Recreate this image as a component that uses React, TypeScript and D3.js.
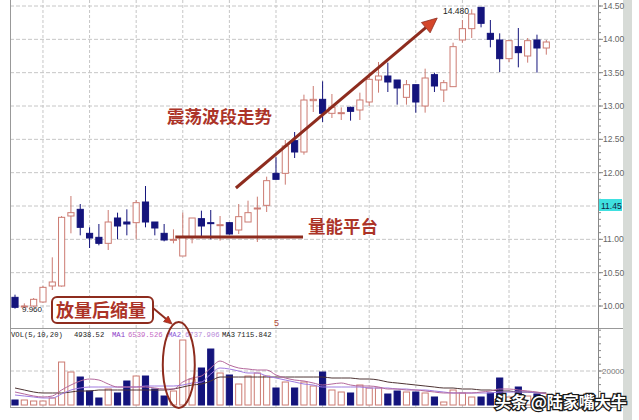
import * as d3 from 'd3'

// daily candles
const opens = [10.13, 9.99, 10.0, 10.06, 10.3, 10.3, 11.35, 11.45, 11.09, 11.03, 10.94, 11.32, 11.26, 11.25, 11.56, 11.26, 11.09, 10.99, 10.75, 11.03, 11.31, 11.25, 11.21, 11.25, 11.14, 11.26, 11.46, 11.51, 11.99, 11.99, 12.48, 12.31, 13.08, 13.1, 12.89, 12.89, 12.98, 12.94, 13.06, 13.39, 13.45, 13.39, 13.13, 13.32, 13.0, 13.47, 13.24, 13.29, 13.99, 14.16, 14.48, 14.09, 13.99, 13.71, 13.89, 13.75, 13.99, 13.87]
const highs = [10.17, 10.04, 10.12, 10.3, 10.73, 11.35, 11.65, 11.53, 11.18, 11.23, 11.44, 11.4, 11.45, 11.59, 11.8, 11.26, 11.23, 11.15, 11.4, 11.32, 11.43, 11.44, 11.35, 11.26, 11.53, 11.58, 11.64, 11.94, 12.23, 12.49, 12.61, 13.17, 13.3, 13.37, 13.18, 12.98, 12.99, 13.2, 13.5, 13.66, 13.65, 13.39, 13.39, 13.32, 13.56, 13.5, 13.39, 13.95, 14.29, 14.45, 14.48, 14.29, 14.09, 13.99, 14.17, 14.02, 14.07, 13.99]
const lows = [9.96, 9.97, 9.98, 10.05, 10.24, 10.29, 11.09, 11.06, 10.87, 10.91, 10.84, 11.0, 11.06, 11.0, 11.18, 11.06, 10.97, 10.94, 10.75, 10.94, 11.05, 11.0, 10.98, 11.07, 11.08, 11.26, 10.96, 11.41, 11.9, 11.82, 12.22, 12.27, 12.91, 12.76, 12.82, 12.79, 12.78, 12.79, 13.0, 13.2, 13.21, 13.02, 13.02, 12.9, 12.9, 13.21, 13.06, 13.29, 13.95, 14.02, 14.18, 13.88, 13.51, 13.66, 13.58, 13.65, 13.5, 13.77]
const closes = [9.98, 10.0, 10.1, 10.28, 10.36, 11.33, 11.4, 11.18, 11.02, 10.94, 11.26, 11.2, 11.23, 11.55, 11.26, 11.17, 10.99, 11.0, 11.03, 11.32, 11.2, 11.24, 11.22, 11.08, 11.34, 11.4, 11.47, 11.88, 11.9, 12.4, 12.31, 13.09, 13.1, 12.89, 12.98, 12.9, 12.92, 13.09, 13.4, 13.45, 13.36, 13.27, 13.32, 13.06, 13.42, 13.3, 13.35, 13.89, 14.16, 14.38, 14.24, 14.0, 13.71, 13.98, 13.8, 13.98, 13.87, 13.96]

const volumes = [2940, 2940, 2350, 2350, 4120, 25280, 19400, 16460, 8230, 4120, 9410, 7060, 14110, 17050, 17050, 9410, 5290, 8230, 38220, 15290, 21760, 32930, 18820, 17640, 12350, 17050, 18820, 17050, 10000, 13520, 10000, 13520, 11170, 19400, 8820, 7640, 7060, 11760, 10000, 10000, 6470, 8230, 7640, 7640, 7060, 4700, 1760, 8820, 7060, 4700, 4700, 7060, 15880, 4700, 10580, 5290, 6470, 4940]
const ma5 = [7640, 6470, 5290, 4700, 5290, 8820, 11760, 14110, 15290, 14700, 12350, 10580, 10580, 10580, 10580, 10000, 9410, 9410, 13520, 15880, 17050, 21760, 25870, 23520, 21760, 21170, 20580, 20580, 17640, 15880, 14700, 14110, 12940, 11760, 12350, 12940, 11760, 11170, 11170, 10580, 9410, 9410, 8820, 8820, 8230, 7640, 7060, 7060, 7060, 7060, 7640, 8230, 9410, 9410, 8820, 8230, 7640, 6540]
const ma10 = [5880, 5290, 4700, 4120, 4120, 6470, 8820, 10000, 10580, 10580, 10580, 10580, 10580, 10580, 11170, 11170, 11170, 11170, 11760, 12940, 13520, 18230, 21760, 21170, 19990, 18820, 18820, 17050, 15880, 14700, 13520, 12350, 11760, 10580, 10580, 10580, 10580, 10580, 10000, 10000, 10000, 9410, 9410, 8820, 8820, 8230, 7640, 7060, 7060, 7060, 7060, 7060, 7640, 7640, 7640, 7640, 7060, 6840]
const ma20 = [10000, 8820, 7640, 7060, 7060, 7060, 7640, 8230, 8230, 8820, 8820, 8820, 8820, 8820, 8820, 8820, 8820, 9410, 10580, 11760, 12350, 14110, 16460, 16460, 16460, 16460, 16460, 16460, 16460, 16460, 16460, 16460, 16460, 16460, 15880, 15880, 15880, 15290, 15290, 14700, 13520, 12940, 12350, 11760, 11170, 10580, 10000, 10000, 9410, 9410, 8820, 8820, 8230, 8230, 7640, 7640, 7120, 7116]

const priceTicks = [10, 10.5, 11, 11.5, 12, 12.5, 13, 13.5, 14, 14.5]
const volTicks = [20000]
const gridIdx = [3, 8, 13, 18, 23, 28, 33, 38, 43, 48, 53, 58]
const lastPriceLabel = '11.45'
const highLabel = '14.480'
const lowLabel = '9.960'
const volLegend = [
  { t: 'VOL(5,10,20)', c: '#222' },
  { t: '4938.52', c: '#222' },
  { t: 'MA1', c: '#8c3cc8' },
  { t: '6539.526', c: '#c46ac4' },
  { t: 'MA2', c: '#8c5ad8' },
  { t: '6737.906', c: '#b88ad8' },
  { t: 'MA3', c: '#222' },
  { t: '7115.842', c: '#222' },
]
const legendX = [11, 74, 112, 128, 168, 185, 222, 237]

const UP = '#cc7b72'
const DOWN = '#14147c'
const ANNO = '#8e2c1e'
const ANNO_TEXT = '#ac3428'
const GRID = '#c6c6c6'

const xPos = d3.scaleLinear().domain([0, 57]).range([15, 546.3])
const yPrice = d3.scaleLinear().domain([10, 14.5]).range([306, 6])
const yVol = d3.scaleLinear().domain([0, 20000]).range([405, 371])
const step = xPos(1) - xPos(0)
const bw = step * 0.66

const volLine = (vals: number[]) =>
  d3
    .line<number>()
    .x((_, i) => xPos(i))
    .y((d) => yVol(d))
    .curve(d3.curveMonotoneX)(vals) ?? ''

function Arrow({ x1, y1, x2, y2, w, head, headFill }: { x1: number; y1: number; x2: number; y2: number; w: number; head: number; headFill: string }) {
  const a = Math.atan2(y2 - y1, x2 - x1)
  const bx = x2 - Math.cos(a) * head
  const by = y2 - Math.sin(a) * head
  const hw = head * 0.45
  const px = -Math.sin(a) * hw
  const py = Math.cos(a) * hw
  return (
    <g>
      <line x1={x1} y1={y1} x2={bx} y2={by} stroke={ANNO} strokeWidth={w} />
      <polygon points={`${x2},${y2} ${bx + px},${by + py} ${bx - px},${by - py}`} fill={headFill} stroke={ANNO} strokeWidth={0.8} />
    </g>
  )
}

export default function App() {
  const idx = d3.range(opens.length)
  const minorPrice = d3.range(100, 146).map((v) => v / 10)
  const minorVol = d3.range(0, 48000, 4000)

  // annotation anchors in data space
  const trendFrom = [xPos(23.7), yPrice(11.77)]
  const trendTo = [xPos(45.3), yPrice(14.32)]
  const platY = yPrice(11.035)

  return (
    <>
      <style>{`body{margin:0}`}</style>
      <svg width={639} height={420} style={{ display: 'block', background: '#fff' }}>
        {/* grid */}
        {gridIdx.map((g) => (
          <line key={g} x1={xPos(g)} x2={xPos(g)} y1={0} y2={407} stroke={GRID} strokeDasharray="3 2" />
        ))}
        {priceTicks.map((p) => (
          <line key={p} x1={10} x2={598} y1={yPrice(p)} y2={yPrice(p)} stroke={GRID} strokeDasharray="4 2" />
        ))}
        {volTicks.map((v) => (
          <line key={v} x1={10} x2={598} y1={yVol(v)} y2={yVol(v)} stroke={GRID} strokeDasharray="4 2" />
        ))}
        {/* frame */}
        <line x1={10.5} x2={10.5} y1={0} y2={407} stroke="#999" />
        <line x1={10} x2={623} y1={328.5} y2={328.5} stroke="#999" />
        <line x1={10} x2={623} y1={407.5} y2={407.5} stroke="#999" />
        <line x1={598.5} x2={598.5} y1={0} y2={407} stroke="#888" />
        <rect x={623} y={0} width={9} height={420} fill="#d7dbd7" />

        {/* candles */}
        {idx.map((i) => {
          const up = closes[i] >= opens[i]
          const c = up ? UP : DOWN
          const x = xPos(i)
          const top = yPrice(Math.max(opens[i], closes[i]))
          const bot = yPrice(Math.min(opens[i], closes[i]))
          return (
            <g key={i}>
              <line x1={x} x2={x} y1={yPrice(highs[i])} y2={yPrice(lows[i])} stroke={c} strokeWidth={1} />
              <rect
                x={x - bw / 2}
                y={top}
                width={bw}
                height={Math.max(1, bot - top)}
                fill={up ? '#fff' : DOWN}
                stroke={c}
                strokeWidth={1}
              />
            </g>
          )
        })}

        {/* volume */}
        {idx.map((i) => {
          const up = closes[i] >= opens[i]
          const top = yVol(volumes[i])
          return (
            <rect
              key={i}
              x={xPos(i) - bw / 2}
              y={top}
              width={bw}
              height={yVol(0) - top}
              fill={up ? '#fff' : DOWN}
              stroke={up ? UP : DOWN}
              strokeWidth={1}
            />
          )
        })}
        <path d={volLine(ma20)} fill="none" stroke="#4e3434" strokeWidth={1} />
        <path d={volLine(ma10)} fill="none" stroke="#a07ae0" strokeWidth={1} />
        <path d={volLine(ma5)} fill="none" stroke="#b4689c" strokeWidth={1} />

        {/* volume legend */}
        {volLegend.map((l, k) => (
          <text key={k} x={legendX[k]} y={337} fontFamily="Liberation Mono" fontSize={7.2} fill={l.c}>
            {l.t}
          </text>
        ))}

        {/* price axis */}
        {minorPrice.map((p) => (
          <line key={p} x1={598} x2={601} y1={yPrice(p)} y2={yPrice(p)} stroke="#888" />
        ))}
        {priceTicks.map((p) => (
          <g key={p}>
            <line x1={598} x2={603} y1={yPrice(p)} y2={yPrice(p)} stroke="#888" />
            {p !== 11.5 && (
              <text x={603} y={yPrice(p) + 3} fontFamily="Liberation Sans" fontSize={8.5} fill="#666">
                {d3.format('.2f')(p)}
              </text>
            )}
          </g>
        ))}
        <rect x={599} y={yPrice(11.5) - 7} width={23} height={12} fill="#3fe0e0" />
        <text x={601} y={yPrice(11.5) + 2.5} fontFamily="Liberation Sans" fontSize={8.5} fill="#124">
          {lastPriceLabel}
        </text>
        {minorVol.map((v) => (
          <line key={v} x1={598} x2={601} y1={yVol(v)} y2={yVol(v)} stroke="#888" />
        ))}
        {volTicks.map((v) => (
          <g key={v}>
            <line x1={598} x2={603} y1={yVol(v)} y2={yVol(v)} stroke="#888" />
            <text x={602} y={yVol(v) + 3} fontFamily="Liberation Sans" fontSize={8} fill="#777">
              {v}
            </text>
          </g>
        ))}

        {/* high / low labels */}
        <text x={xPos(50) - 38} y={yPrice(14.48) + 7} fontFamily="Liberation Sans" fontSize={8.5} fill="#222">
          {highLabel}
        </text>
        <text x={22} y={312} fontFamily="Liberation Sans" fontSize={8} fill="#222">
          {lowLabel}
        </text>
        <text x={xPos(28) - 2} y={326} fontFamily="Liberation Sans" fontSize={9} fill="#b04a3a">
          5
        </text>

        {/* annotations */}
        <Arrow x1={trendFrom[0]} y1={trendFrom[1]} x2={trendTo[0]} y2={trendTo[1]} w={3} head={15} headFill="#d4462a" />
        <line x1={xPos(17.2)} x2={xPos(30.9)} y1={platY} y2={platY} stroke={ANNO} strokeWidth={3} />
        <text x={308} y={233} fontFamily="Noto Sans CJK SC" fontWeight={600} fontSize={17.5} fill={ANNO_TEXT}>
          量能平台
        </text>
        <text x={167} y={123} fontFamily="Noto Sans CJK SC" fontWeight={600} fontSize={17.5} fill={ANNO_TEXT}>
          震荡波段走势
        </text>
        <rect x={52} y={297} width={101} height={26} rx={5} fill="#fff" stroke={ANNO} strokeWidth={2} />
        <text x={56} y={316.5} fontFamily="Noto Sans CJK SC" fontWeight={600} fontSize={18} fill={ANNO_TEXT}>
          放量后缩量
        </text>
        <Arrow x1={153} y1={308} x2={172} y2={324} w={2} head={8} headFill="#c0301e" />
        <ellipse cx={xPos(18) - 4} cy={365} rx={16} ry={43} fill="none" stroke={ANNO} strokeWidth={2} />

        {/* watermark */}
        <text
          x={495}
          y={408}
          fontFamily="Noto Sans CJK SC"
          fontWeight={700}
          fontSize={16}
          fill="#fff"
          stroke="#1a1a1a"
          strokeWidth={2.6}
          paintOrder="stroke"
        >
          头条 @陆家嘴大牛
        </text>
      </svg>
    </>
  )
}
